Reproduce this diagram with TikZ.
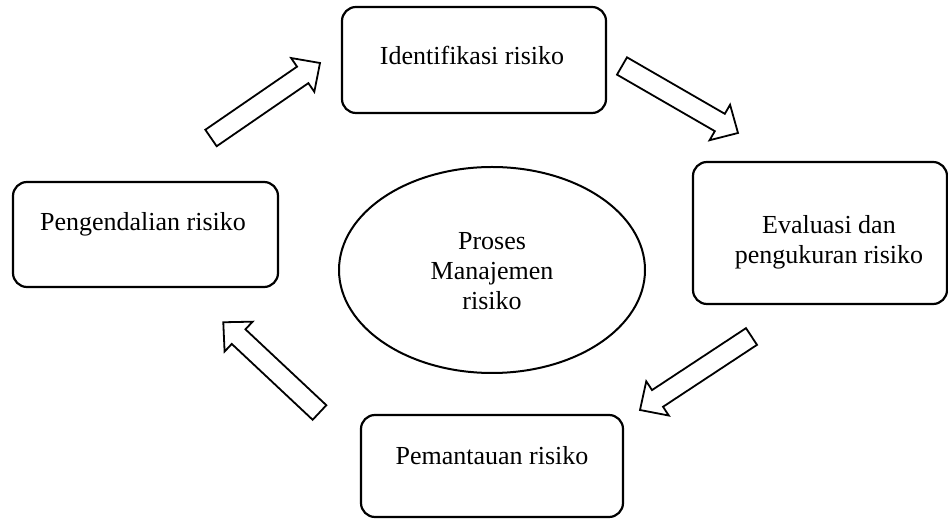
\documentclass[tikz,border=0pt]{standalone}
\usepackage{fontspec}
\setmainfont{Liberation Serif}
\usetikzlibrary{calc,shapes.geometric}
\tikzset{
  stagebox/.style={draw, line width=2.2pt, rounded corners=14pt, inner sep=0pt},
  txt/.style={font=\fontsize{26}{30}\selectfont, inner sep=0pt, align=center},
  barrow/.style={draw, line width=1.8pt, fill=white, line join=miter},
  coreell/.style={draw, ellipse, line width=2pt, inner sep=0pt},
}
\newcommand{\blockarrow}[2]{%
  \path let \p1=($(#2)-(#1)$) in \pgfextra{%
    \pgfmathsetmacro\baang{atan2(\y1,\x1)}%
    \pgfmathsetmacro\balen{veclen(\x1,\y1)}%
    \global\let\baangG\baang\global\let\balenG\balen};
  \draw[barrow, shift={(#1)}, rotate=\baangG]
    (0,-10) -- (\balenG-21,-10) -- (\balenG-21,-20.5) -- (\balenG,0)
    -- (\balenG-21,20.5) -- (\balenG-21,10) -- (0,10) -- cycle;
}
\begin{document}
\begin{tikzpicture}[x=1pt, y=1pt]
\useasboundingbox (0,0) rectangle (948,519);

% stage boxes
\node[stagebox, minimum width=264pt, minimum height=106pt] (iden) at (474,459) {};
\node[stagebox, minimum width=254pt, minimum height=142pt] (eval) at (820,286) {};
\node[stagebox, minimum width=262pt, minimum height=102pt] (pema) at (492,53) {};
\node[stagebox, minimum width=265pt, minimum height=105pt] (peng) at (145.5,284.5) {};
\node[coreell, minimum width=306pt, minimum height=206pt] (core) at (492,249) {};

% texts
\node[txt, anchor=base] (idenT) at (472,454) {Identifikasi risiko};
\node[txt] (evalT) at (829,277) {Evaluasi dan\\pengukuran risiko};
\node[txt, anchor=base] (pemaT) at (492,54) {Pemantauan risiko};
\node[txt, anchor=base] (pengT) at (143,288) {Pengendalian risiko};
\node[txt] (coreT) at (492,247.6) {Proses\\Manajemen\\risiko};

% block arrows
\coordinate (a1s) at (211,381);   \coordinate (a1e) at (320,456);
\coordinate (a2s) at (622,453);   \coordinate (a2e) at (738,386);
\coordinate (a3s) at (751.5,182.5); \coordinate (a3e) at (640,109);
\coordinate (a4s) at (319.5,106.5); \coordinate (a4e) at (223,197);
\blockarrow{a1s}{a1e}
\blockarrow{a2s}{a2e}
\blockarrow{a3s}{a3e}
\blockarrow{a4s}{a4e}
\end{tikzpicture}
\end{document}
